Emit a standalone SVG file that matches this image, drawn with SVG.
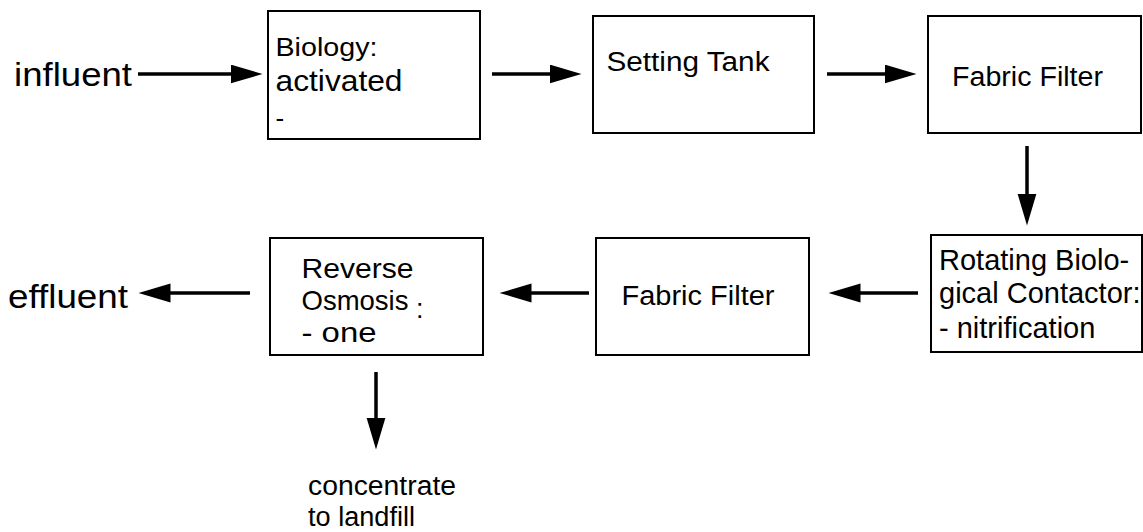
<svg xmlns="http://www.w3.org/2000/svg" width="1143" height="532" viewBox="0 0 1143 532">
  <style>
    .box { fill: #ffffff; stroke: #000000; stroke-width: 2; }
    .lbl { font-family: "Liberation Sans", Arial, sans-serif; fill: #000000; }
    .flow { stroke: #000000; stroke-width: 3.5; fill: none; marker-end: url(#head); }
  </style>
  <defs>
    <marker id="head" markerUnits="userSpaceOnUse" markerWidth="33" markerHeight="20" refX="0.5" refY="9.5" orient="auto">
      <path d="M0,0 L32,9.5 L0,19 Z" fill="#000000"/>
    </marker>
  </defs>
  <rect width="1143" height="532" fill="#ffffff"/>

  <!-- in/out labels -->
  <g id="influent"><text class="lbl" x="14" y="86" font-size="34" textLength="118" lengthAdjust="spacingAndGlyphs">influent</text></g>
  <g id="effluent"><text class="lbl" x="8" y="308" font-size="34" textLength="120" lengthAdjust="spacingAndGlyphs">effluent</text></g>

  <!-- process units -->
  <g id="biology">
    <rect class="box" x="268" y="11" width="212" height="128"/>
    <text class="lbl" x="275.5" y="56" font-size="26" textLength="102" lengthAdjust="spacingAndGlyphs">Biology:</text>
    <text class="lbl" x="275.5" y="91" font-size="30" textLength="127" lengthAdjust="spacingAndGlyphs">activated</text>
    <text class="lbl" x="275.5" y="127" font-size="26">-</text>
  </g>
  <g id="settling">
    <rect class="box" x="593" y="16" width="221" height="117"/>
    <text class="lbl" x="606.5" y="71" font-size="27" textLength="163" lengthAdjust="spacingAndGlyphs">Setting Tank</text>
  </g>
  <g id="fabric1">
    <rect class="box" x="928" y="16" width="213" height="117"/>
    <text class="lbl" x="952" y="86" font-size="27" textLength="151" lengthAdjust="spacingAndGlyphs">Fabric Filter</text>
  </g>
  <g id="rbc">
    <rect class="box" x="931" y="235" width="211" height="117"/>
    <text class="lbl" x="939" y="270" font-size="29">Rotating Biolo-</text>
    <text class="lbl" x="939" y="303" font-size="29">gical Contactor:</text>
    <text class="lbl" x="939" y="338" font-size="29">- nitrification</text>
  </g>
  <g id="fabric2">
    <rect class="box" x="596" y="238" width="213" height="117"/>
    <text class="lbl" x="621.5" y="305" font-size="27" textLength="153" lengthAdjust="spacingAndGlyphs">Fabric Filter</text>
  </g>
  <g id="ro">
    <rect class="box" x="270" y="238" width="213" height="117"/>
    <text class="lbl" x="301.5" y="278" font-size="27" textLength="112" lengthAdjust="spacingAndGlyphs">Reverse</text>
    <text class="lbl" x="301.5" y="310" font-size="27.5">Osmosis</text>
    <text class="lbl" x="416" y="318" font-size="27">:</text>
    <text class="lbl" x="301.5" y="342" font-size="27" textLength="75" lengthAdjust="spacingAndGlyphs">- one</text>
  </g>
  <g id="concentrate">
    <text class="lbl" x="308" y="495" font-size="27" textLength="148" lengthAdjust="spacingAndGlyphs">concentrate</text>
    <text class="lbl" x="308" y="526" font-size="27" textLength="107" lengthAdjust="spacingAndGlyphs">to landfill</text>
  </g>

  <!-- flow arrows -->
  <g id="connectors">
    <line class="flow" x1="138" y1="74" x2="231" y2="74"/>
    <line class="flow" x1="492" y1="74" x2="550" y2="74"/>
    <line class="flow" x1="827" y1="74" x2="885" y2="74"/>
    <line class="flow" x1="1027" y1="146" x2="1027" y2="194"/>
    <line class="flow" x1="918" y1="293" x2="860" y2="293"/>
    <line class="flow" x1="589" y1="293" x2="531" y2="293"/>
    <line class="flow" x1="250" y1="293" x2="170" y2="293"/>
    <line class="flow" x1="376" y1="372" x2="376" y2="418"/>
  </g>
</svg>
